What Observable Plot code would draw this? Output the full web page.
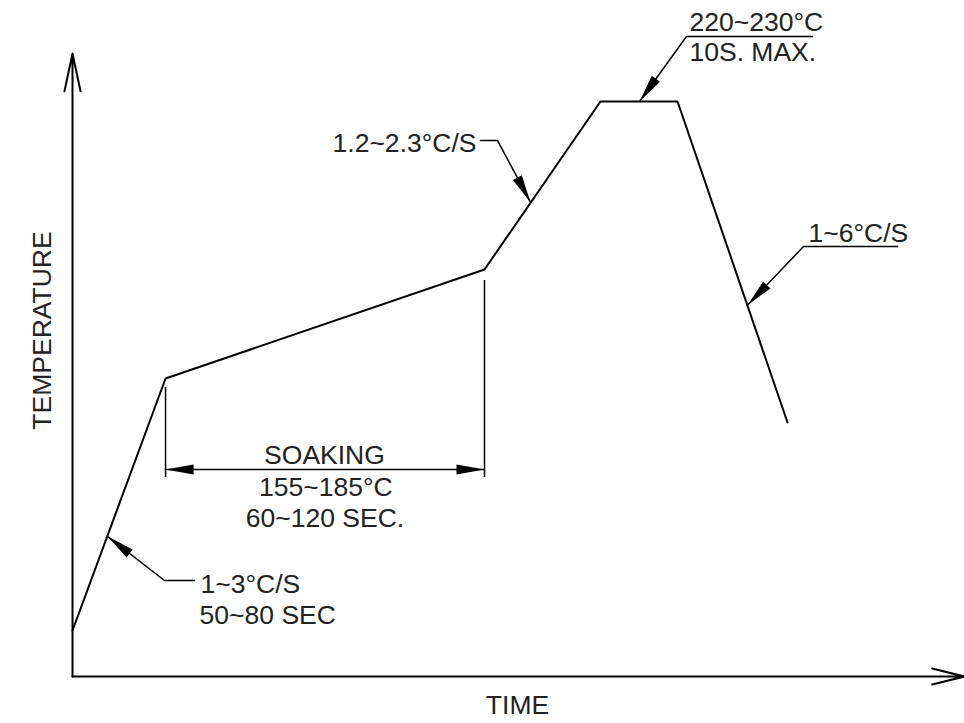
<!DOCTYPE html>
<html>
<head>
<meta charset="utf-8">
<script src="https://cdn.jsdelivr.net/npm/d3@7"></script>
<script src="https://cdn.jsdelivr.net/npm/@observablehq/plot@0.6"></script>
<style>
  html, body { margin: 0; padding: 0; background: #fff; }
  #chart svg { display: block; }
</style>
</head>
<body>
<div id="chart"></div>
<script>
// Schematic reflow profile, in relative units (0–100 of each axis)
const profileTime = [0, 10.43, 46.19, 59.19, 67.83, 80.16];
const profileTemp = [7.38, 47.83, 65.33, 92.30, 92.30, 40.77];

// Leader lines (last point is the arrow tip)
const leaderRamp = {x: [13.68, 10.31, 3.92], y: [15.41, 15.41, 22.5]};
const leaderRise = {x: [45.74, 47.65, 51.35], y: [86.03, 86.03, 76.1]};
const leaderPeak = {x: [82.96, 68.83, 63.57], y: [102.73, 102.73, 92.30]};
const leaderCool = {x: [92.49, 81.95, 75.67], y: [69.02, 69.02, 59.6]};

// Soaking dimension
const soakStart = 10.43, soakEnd = 46.19;
const soakExtTop = [46.39, 63.56];
const soakExtBottom = 31.94;
const soakDimY = 33.23;

// Labels
const labelText = ["SOAKING", "155~185°C", "60~120 SEC.", "1~3°C/S", "50~80 SEC",
                   "1.2~2.3°C/S", "220~230°C", "10S. MAX.", "1~6°C/S"];
const labelX = [28.25, 28.4, 28.3, 14.35, 14.25, 45.29, 69.17, 69.17, 82.51];
const labelY = [35.55, 30.34, 25.28, 14.77, 9.71, 85.63, 104.90, 100.16, 71.11];
const labelAnchor = ["middle", "middle", "middle", "start", "start", "end", "start", "start", "start"];

const axisTitles = {x: "TIME", y: "TEMPERATURE"};

const profile = profileTime.map((t, i) => ({t, T: profileTemp[i]}));
const toPts = (l) => l.x.map((x, i) => ({x, y: l.y[i]}));
const labels = labelText.map((text, i) => ({text, x: labelX[i], y: labelY[i], anchor: labelAnchor[i]}));

function filledHead(color, context) {
  const doc = (context && context.document) || document;
  const ns = "http://www.w3.org/2000/svg";
  const m = doc.createElementNS(ns, "marker");
  m.setAttribute("viewBox", "-30 -7 32 14");
  m.setAttribute("markerWidth", 32);
  m.setAttribute("markerHeight", 14);
  m.setAttribute("markerUnits", "userSpaceOnUse");
  m.setAttribute("orient", "auto-start-reverse");
  m.setAttribute("refX", 0);
  m.setAttribute("refY", 0);
  const p = doc.createElementNS(ns, "path");
  p.setAttribute("d", "M0,0L-28,-5L-28,5Z");
  p.setAttribute("fill", color);
  p.setAttribute("stroke", "none");
  m.appendChild(p);
  return m;
}

const font = "Liberation Sans, Arial, sans-serif";
const fs = 26.5;

const chart = Plot.plot({
  width: 964,
  height: 723,
  marginLeft: 72,
  marginRight: 0,
  marginTop: 53,
  marginBottom: 47,
  x: {domain: [0, 100], axis: null},
  y: {domain: [0, 100], axis: null},
  style: {fontFamily: font, background: "#fff", overflow: "visible"},
  marks: [
    // axes with open arrowheads
    Plot.arrow([{x1: 0, y1: 0, x2: 0, y2: 100}], {x1: "x1", y1: "y1", x2: "x2", y2: "y2",
      stroke: "#000", strokeWidth: 2, headLength: 29, headAngle: 24}),
    Plot.arrow([{x1: 0, y1: 0, x2: 100, y2: 0}], {x1: "x1", y1: "y1", x2: "x2", y2: "y2",
      stroke: "#000", strokeWidth: 2, headLength: 25, headAngle: 28}),
    // profile
    Plot.line(profile, {x: "t", y: "T", stroke: "#000", strokeWidth: 2, strokeLinejoin: "miter"}),
    // soaking extension lines
    Plot.ruleX([soakStart], {y1: soakExtTop[0], y2: soakExtBottom, stroke: "#000", strokeWidth: 1.5}),
    Plot.ruleX([soakEnd], {y1: soakExtTop[1], y2: soakExtBottom, stroke: "#000", strokeWidth: 1.5}),
    // soaking dimension line
    Plot.line([{x: soakStart, y: soakDimY}, {x: soakEnd, y: soakDimY}], {x: "x", y: "y",
      stroke: "#000", strokeWidth: 1.5, markerStart: filledHead, markerEnd: filledHead}),
    // leaders
    ...[leaderRamp, leaderRise, leaderPeak, leaderCool].map(l =>
      Plot.line(toPts(l), {x: "x", y: "y", stroke: "#000", strokeWidth: 1.5,
        strokeLinejoin: "miter", markerEnd: filledHead})),
    // labels
    ...["start", "middle", "end"].map(a =>
      Plot.text(labels.filter(d => d.anchor === a), {x: "x", y: "y", text: "text",
        textAnchor: a, fontSize: fs, fill: "#222", fontFamily: font})),
    // axis titles
    Plot.text([axisTitles.x], {x: 49.89, y: -4.65, text: d => d, fontSize: fs, fill: "#222", fontFamily: font}),
    Plot.text([axisTitles.y], {x: -3.36, y: 55.54, text: d => d, rotate: -90, fontSize: fs, fill: "#222", fontFamily: font})
  ]
});
document.getElementById("chart").appendChild(chart);
</script>
</body>
</html>
